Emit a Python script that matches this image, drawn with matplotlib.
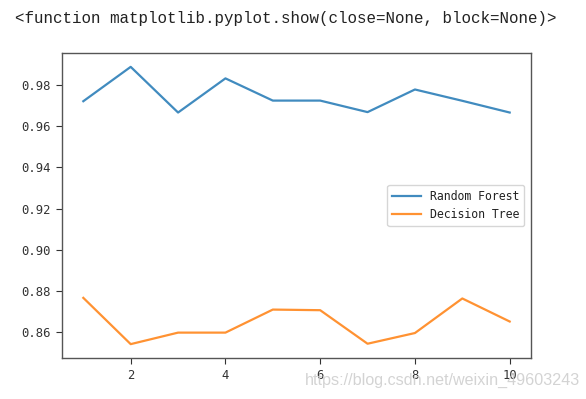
import matplotlib
matplotlib.use("Agg")
import matplotlib.pyplot as plt

# values
trees = [1, 2, 3, 4, 5, 6, 7, 8, 9, 10]
rf_scores = [0.9722, 0.9889, 0.9667, 0.9833, 0.9725, 0.9725, 0.9669, 0.9779, 0.9724, 0.9667]
dt_scores = [0.8766, 0.8541, 0.8597, 0.8597, 0.8709, 0.8706, 0.8543, 0.8595, 0.8763, 0.8651]
xticks = [2, 4, 6, 8, 10]
yticks = [0.86, 0.88, 0.90, 0.92, 0.94, 0.96, 0.98]

W, H = 586, 399
fig = plt.figure(figsize=(W / 100, H / 100), dpi=100, facecolor="white")

# notebook output line above the figure
fig.text(15 / W, 1 - 18 / H, "<function matplotlib.pyplot.show(close=None, block=None)>",
         family="Liberation Mono", fontsize=11.4, color="#222222", va="center", ha="left")

ax = fig.add_axes([62 / W, 1 - 358 / H, 469 / W, 305 / H])
ax.plot(trees, rf_scores, label="Random Forest", linewidth=1.6, alpha=0.85)
ax.plot(trees, dt_scores, label="Decision Tree", linewidth=1.6, alpha=0.85)

ax.set_xticks(xticks)
ax.set_yticks(yticks)
ax.set_yticklabels([f"{v:.2f}" for v in yticks])
ax.tick_params(labelsize=8.8, colors="#333333", length=4.5)
for lbl in ax.get_xticklabels() + ax.get_yticklabels():
    lbl.set_family("DejaVu Sans Mono")
for s in ax.spines.values():
    s.set_color("#555555")
    s.set_linewidth(1.0)

leg = ax.legend(loc="center right", prop={"family": "DejaVu Sans Mono", "size": 8.3},
                handlelength=2.5, borderaxespad=0.6, labelspacing=0.5)
for t in leg.get_texts():
    t.set_color("#222222")

# csdn watermark
fig.text(305 / W, 1 - 380 / H, "https://blog.csdn.net/weixin_49603243",
         family="Liberation Sans", fontsize=11.6, color="#cccccc", alpha=0.85,
         va="center", ha="left")

fig.savefig("out.png", dpi=100, facecolor="white")
